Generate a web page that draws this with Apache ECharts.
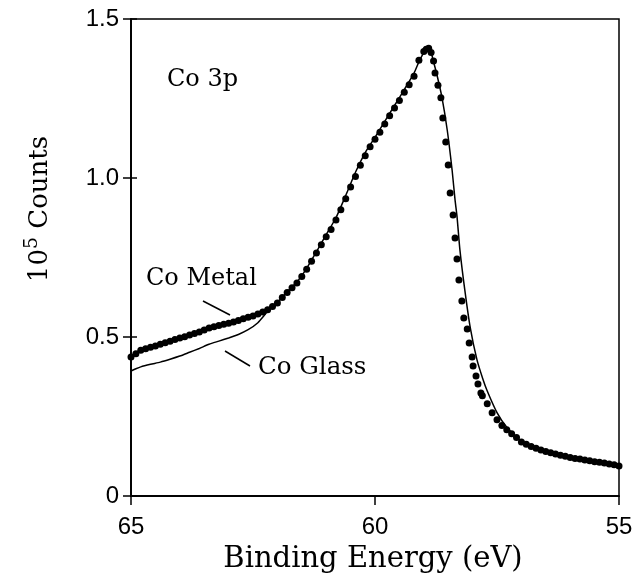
<!DOCTYPE html>
<html>
<head>
<meta charset="utf-8">
<script src="https://cdn.jsdelivr.net/npm/echarts@6/dist/echarts.min.js"></script>
<style>
  html, body { margin: 0; padding: 0; background: #fff; }
  #chart { width: 636px; height: 575px; }
</style>
</head>
<body>
<div id="chart"></div>
<script>
// binding energy (eV) / counts (1e5)
const metalEnergy = [
  65.0, 64.9, 64.8, 64.7, 64.6, 64.5, 64.4, 64.3, 64.2, 64.1,
  64.0, 63.9, 63.8, 63.7, 63.6, 63.5, 63.4, 63.3, 63.2, 63.1,
  63.0, 62.9, 62.8, 62.7, 62.6, 62.5, 62.4, 62.3, 62.2, 62.1,
  62.0, 61.9, 61.8, 61.7, 61.6, 61.5, 61.4, 61.3, 61.2, 61.1,
  61.0, 60.9, 60.8, 60.7, 60.6, 60.5, 60.4, 60.3, 60.2, 60.1,
  60.0, 59.9, 59.8, 59.7, 59.6, 59.5, 59.4, 59.3, 59.2, 59.1,
  59.0, 58.95, 58.9, 58.85, 58.8,
  58.77, 58.71, 58.65, 58.61, 58.55, 58.5, 58.46, 58.4, 58.36, 58.32,
  58.28, 58.22, 58.18, 58.11, 58.07, 58.01, 57.99, 57.93, 57.89, 57.83,
  57.8, 57.7, 57.6, 57.5, 57.4, 57.3, 57.2, 57.1, 57.0, 56.9,
  56.8, 56.7, 56.6, 56.5, 56.4, 56.3, 56.2, 56.1, 56.0, 55.9,
  55.8, 55.7, 55.6, 55.5, 55.4, 55.3, 55.2, 55.1, 55.0
];
const metalCounts = [
  0.437, 0.447, 0.458, 0.463, 0.468, 0.472, 0.477, 0.482, 0.487, 0.492,
  0.497, 0.501, 0.506, 0.511, 0.516, 0.522, 0.528, 0.532, 0.536, 0.540,
  0.543, 0.547, 0.552, 0.557, 0.562, 0.566, 0.572, 0.579, 0.586, 0.596,
  0.607, 0.624, 0.640, 0.655, 0.670, 0.690, 0.713, 0.738, 0.764, 0.790,
  0.815, 0.838, 0.868, 0.900, 0.935, 0.972, 1.005, 1.040, 1.070, 1.098,
  1.122, 1.144, 1.170, 1.196, 1.220, 1.244, 1.270, 1.293, 1.320, 1.370,
  1.398, 1.405, 1.408, 1.395, 1.368,
  1.330, 1.292, 1.252, 1.189, 1.113, 1.041, 0.953, 0.884, 0.811, 0.745,
  0.679, 0.613, 0.560, 0.525, 0.481, 0.437, 0.409, 0.377, 0.352, 0.324,
  0.315, 0.290, 0.262, 0.240, 0.222, 0.208, 0.196, 0.184, 0.170, 0.163,
  0.156, 0.150, 0.145, 0.140, 0.136, 0.132, 0.128, 0.125, 0.121, 0.118,
  0.116, 0.113, 0.111, 0.108, 0.106, 0.104, 0.101, 0.098, 0.094
];
const glassEnergy = [
  65.0, 64.9, 64.8, 64.6, 64.4, 64.2, 64.0, 63.8, 63.6, 63.4,
  63.2, 63.0, 62.8, 62.6, 62.4, 62.2, 62.0, 61.8, 61.6, 61.4,
  61.2, 61.0, 60.8, 60.6, 60.4, 60.2, 60.0, 59.8, 59.6, 59.4,
  59.2, 59.1, 59.0, 58.93, 58.85, 58.81, 58.73, 58.63, 58.52, 58.42,
  58.36, 58.32, 58.26, 58.16, 58.05, 57.91, 57.79, 57.7, 57.5, 57.3,
  57.0, 56.6, 56.0, 55.5, 55.0
];
const glassCounts = [
  0.393, 0.400, 0.406, 0.414, 0.421, 0.430, 0.440, 0.452, 0.464, 0.477,
  0.487, 0.497, 0.508, 0.523, 0.545, 0.580, 0.608, 0.642, 0.673, 0.716,
  0.768, 0.822, 0.875, 0.945, 1.018, 1.080, 1.128, 1.178, 1.228, 1.278,
  1.330, 1.365, 1.395, 1.412, 1.395, 1.371, 1.324, 1.255, 1.151, 1.025,
  0.931, 0.880, 0.774, 0.648, 0.531, 0.428, 0.368, 0.330, 0.262, 0.216,
  0.172, 0.146, 0.122, 0.108, 0.095
];
const xTicks = [65, 60, 55];
const yTicks = [0, 0.5, 1.0, 1.5];

const SERIF = 'DejaVu Serif';
const SANS = 'Liberation Sans';
const zip = (xs, ys) => xs.map((x, i) => [x, ys[i]]);
const tickStyle = { color: '#000', width: 1.5 };

const chart = echarts.init(document.getElementById('chart'));
const xBase = {
  type: 'value', min: 55, max: 65, interval: 5, inverse: true,
  axisLine: { lineStyle: { color: '#000', width: 1.5 } },
  splitLine: { show: false }
};
const yBase = {
  type: 'value', min: 0, max: 1.5, interval: 0.5, position: 'left',
  axisLine: { show: true, lineStyle: { color: '#000', width: 1.5 } },
  splitLine: { show: false }
};
chart.setOption({
  animation: false,
  backgroundColor: '#fff',
  grid: {
    left: 131, right: 17, top: 19, bottom: 79,
    show: true, borderColor: '#000', borderWidth: 1.5
  },
  xAxis: [
    Object.assign({}, xBase, {
      axisTick: { length: 9, lineStyle: tickStyle },
      axisLabel: {
        color: '#000', fontFamily: SANS, fontSize: 24, margin: 19,
        formatter: v => xTicks.includes(v) ? String(v) : ''
      }
    }),
    Object.assign({}, xBase, {
      axisTick: { inside: true, length: 6, lineStyle: tickStyle },
      axisLabel: { show: false }
    })
  ],
  yAxis: [
    Object.assign({}, yBase, {
      axisTick: { show: true, length: 8, lineStyle: tickStyle },
      axisLabel: {
        color: '#000', fontFamily: SANS, fontSize: 24, margin: 12,
        formatter: v => {
          const t = yTicks.find(k => Math.abs(k - v) < 1e-9);
          return t === 0 ? '0' : t.toFixed(1);
        }
      }
    }),
    Object.assign({}, yBase, {
      axisTick: { show: true, inside: true, length: 6, lineStyle: tickStyle },
      axisLabel: { show: false }
    })
  ],
  series: [
    {
      name: 'Co Glass', type: 'line', data: zip(glassEnergy, glassCounts),
      showSymbol: false, smooth: 0.2,
      lineStyle: { color: '#000', width: 1.5 }, z: 2
    },
    {
      name: 'Co Metal', type: 'scatter', data: zip(metalEnergy, metalCounts),
      symbolSize: 7, itemStyle: { color: '#000', opacity: 1 }, z: 3
    }
  ],
  graphic: [
    { type: 'text', left: 167, top: 68,
      style: { text: 'Co 3p', font: '24px "DejaVu Serif"', fill: '#000' } },
    { type: 'text', left: 146, top: 267,
      style: { text: 'Co Metal', font: '24px "DejaVu Serif"', fill: '#000' } },
    { type: 'text', left: 258, top: 355,
      style: { text: 'Co Glass', font: '24.5px "DejaVu Serif"', fill: '#000' } },
    { type: 'line', shape: { x1: 203, y1: 301, x2: 230, y2: 315 },
      style: { stroke: '#000', lineWidth: 1.5 } },
    { type: 'line', shape: { x1: 225, y1: 351, x2: 250, y2: 366 },
      style: { stroke: '#000', lineWidth: 1.5 } },
    { type: 'text', x: 373, y: 559,
      style: { text: 'Binding Energy (eV)', font: '29px "DejaVu Serif"', fill: '#000',
        align: 'center', verticalAlign: 'middle' } },
    { type: 'text', x: 40, y: 209, rotation: Math.PI / 2,
      style: {
        text: '{a|10}{s|5}{a| Counts}',
        align: 'center', verticalAlign: 'middle',
        rich: {
          a: { fontFamily: SERIF, fontSize: 26, fill: '#000' },
          s: { fontFamily: SERIF, fontSize: 19, fill: '#000', padding: [0, 0, 15, 0] }
        }
      } }
  ]
});
</script>
</body>
</html>
